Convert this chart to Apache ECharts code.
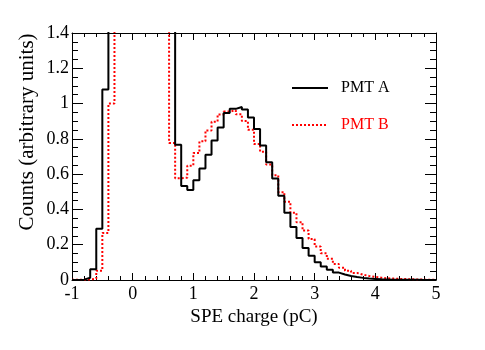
<!DOCTYPE html>
<html>
<head>
<meta charset="utf-8">
<script src="https://cdn.jsdelivr.net/npm/echarts@6/dist/echarts.min.js"></script>
<style>
  html, body { margin: 0; padding: 0; background: #fff; }
  #container { width: 485px; height: 350px; }
</style>
</head>
<body>
<div id="container"></div>
<script>
// histogram binning (pC)
const binLow = -1.0;
const binWidth = 0.1;

// PMT A, 60 bins from -1 to 5 (pedestal bins go off scale, guessed)
const pmtA = [
  0.0, 0.002, 0.013, 0.061, 0.29, 1.08,
  4.5, 12, 22, 26, 20, 10, 4.0, 2.2, 1.7, 1.55, 1.45,
  0.767, 0.533, 0.51, 0.566, 0.632, 0.71, 0.79, 0.865, 0.946, 0.97,
  0.981, 0.967, 0.921, 0.856, 0.762, 0.667, 0.575, 0.478, 0.381, 0.301,
  0.238, 0.181, 0.137, 0.101, 0.076, 0.058, 0.042, 0.031, 0.023, 0.017,
  0.012, 0.008, 0.006, 0.004, 0.003, 0.002, 0.002, 0.001, 0.001, 0.001,
  0.0, 0.0, 0.0
];

// PMT B, same bins
const pmtB = [
  0.002, 0.002, 0.003, 0.008, 0.053, 0.267, 1.0,
  3.8, 11, 21, 25, 18, 8.0, 3.5, 2.0, 1.6,
  0.777, 0.577, 0.58, 0.648, 0.72, 0.786, 0.848, 0.897, 0.938, 0.955,
  0.962, 0.939, 0.901, 0.851, 0.771, 0.727, 0.655, 0.594, 0.498, 0.444,
  0.381, 0.328, 0.28, 0.232, 0.19, 0.152, 0.12, 0.091, 0.07, 0.053,
  0.04, 0.03, 0.023, 0.017, 0.013, 0.01, 0.008, 0.006, 0.005, 0.004,
  0.003, 0.002, 0.002, 0.001
];

const seriesNames = ["PMT A", "PMT B"];

// turn bin contents into [edge, value] points for a step line
function histPoints(values) {
  let pts = values.map((v, i) => [+(binLow + i * binWidth).toFixed(2), v]);
  pts.push([+(binLow + values.length * binWidth).toFixed(2), values[values.length - 1]]);
  return pts;
}

const serif = "Liberation Serif";

function frameAxis(extra) {
  return Object.assign({
    type: "value",
    axisLine: { show: true, onZero: false, lineStyle: { color: "#000", width: 1 } },
    splitLine: { show: false },
  }, extra);
}

function grafica() {
  let dom = document.getElementById("container");
  let myChart = echarts.init(dom, null, {
    renderer: "canvas",
    useDirtyRect: false,
  });

  let option;

  option = {
    animation: false,
    backgroundColor: "#fff",
    grid: { left: 72, right: 49, top: 33, bottom: 70 },
    legend: {
      orient: "vertical",
      left: 286,
      top: 75,
      itemWidth: 36,
      itemHeight: 14,
      itemGap: 21,
      itemStyle: { opacity: 0 },
      textStyle: { fontFamily: serif, fontSize: 16, padding: [0, 0, 0, 8] },
      data: [
        { name: seriesNames[0], textStyle: { color: "#000" } },
        { name: seriesNames[1], textStyle: { color: "#ff0000" } },
      ],
    },
    xAxis: [
      frameAxis({
        min: -1, max: 5, interval: 1,
        name: "SPE charge (pC)",
        nameLocation: "middle",
        nameGap: 22,
        nameTextStyle: { fontFamily: serif, fontSize: 19, color: "#000" },
        axisTick: { inside: true, length: 7, lineStyle: { color: "#000" } },
        minorTick: { show: true, splitNumber: 5, length: 4, lineStyle: { color: "#000" } },
        axisLabel: { fontFamily: serif, fontSize: 18, color: "#000", margin: 5 },
      }),
      frameAxis({
        position: "top",
        min: -1, max: 5, interval: 1,
        axisTick: { inside: true, length: 7, lineStyle: { color: "#000" } },
        minorTick: { show: true, splitNumber: 5, length: 4, lineStyle: { color: "#000" } },
        axisLabel: { show: false },
      }),
    ],
    yAxis: [
      frameAxis({
        min: 0, max: 1.4, interval: 0.2,
        axisTick: { inside: true, length: 11, lineStyle: { color: "#000" } },
        minorTick: { show: true, splitNumber: 4, length: 6, lineStyle: { color: "#000" } },
        axisLabel: { fontFamily: serif, fontSize: 18, color: "#000", margin: 3 },
      }),
      frameAxis({
        position: "right",
        min: 0, max: 1.4, interval: 0.2,
        axisTick: { inside: true, length: 11, lineStyle: { color: "#000" } },
        minorTick: { show: true, splitNumber: 4, length: 6, lineStyle: { color: "#000" } },
        axisLabel: { show: false },
      }),
    ],
    graphic: [
      {
        type: "text",
        x: 27,
        y: 132,
        rotation: Math.PI / 2,
        style: {
          text: "Counts (arbitrary units)",
          fontFamily: serif,
          fontSize: 21,
          fill: "#000",
          align: "center",
          verticalAlign: "middle",
        },
      },
    ],
    series: [
      {
        name: seriesNames[0],
        type: "line",
        step: "end",
        symbol: "none",
        clip: true,
        color: "#000",
        lineStyle: { color: "#000", width: 2 },
        data: histPoints(pmtA),
        z: 3,
      },
      {
        name: seriesNames[1],
        type: "line",
        step: "end",
        symbol: "none",
        clip: true,
        color: "#ff0000",
        lineStyle: { color: "#ff0000", width: 2, type: [2, 2] },
        data: histPoints(pmtB),
        z: 2,
      },
    ],
  };

  if (option && typeof option === "object") {
    myChart.setOption(option);
  }

  window.addEventListener("resize", myChart.resize);
}

grafica();
</script>
</body>
</html>
